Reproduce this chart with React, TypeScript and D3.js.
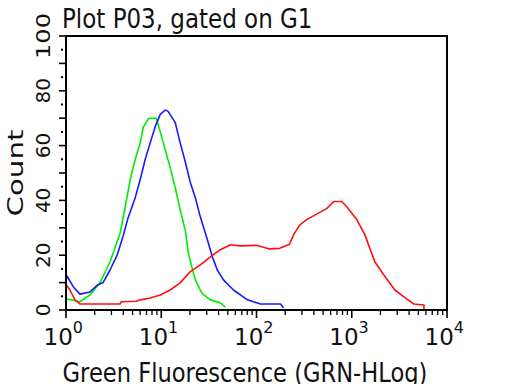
import { useMemo } from 'react'
import * as d3 from 'd3'

// histogram traces: fluorescence channel (log scale) vs count
const greenX = [1.0, 1.02, 1.4, 1.79, 2.28, 2.9, 3.7, 4.18, 4.72, 5.33, 6.01, 6.47, 7.4, 8.9, 9.76, 11.0, 12.4, 14.0, 15.8, 17.9, 19.2, 21.2, 22.8, 25.7, 27.0, 32.8, 41.8, 47.2]
const greenY = [3.7, 4, 3, 5.5, 10, 17.6, 28, 37.5, 47.6, 55, 61, 66.7, 70, 70, 65, 58.6, 52, 44.7, 36.6, 29, 21, 15, 11, 7.3, 6, 3.7, 2.6, 1]

const blueX = [1.0, 1.02, 1.19, 1.4, 1.79, 2.12, 2.45, 2.9, 3.44, 3.98, 4.49, 5.33, 6.01, 6.79, 7.66, 8.65, 9.76, 11.0, 11.8, 14.0, 15.8, 17.9, 20.2, 22.8, 25.7, 30.5, 34.4, 38.8, 45.0, 57.3, 80.4, 110, 179, 192]
const blueY = [10, 12.5, 8.5, 5.8, 6.6, 9, 10, 14.6, 20, 27, 33.7, 41, 47.6, 55, 61, 67, 71.4, 73, 72.5, 68.5, 61, 54, 46.5, 41, 34, 25.6, 19.4, 14.6, 11, 7.3, 3.7, 2.2, 2.2, 0.7]

const redX = [1.0, 1.0, 1.02, 1.1, 1.24, 1.4, 3.7, 3.8, 5.5, 6.01, 7.66, 9.76, 12.4, 15.8, 20.2, 25.7, 32.8, 41.8, 53.2, 67.9, 100, 137, 175, 222, 245, 284, 336, 428, 545, 647, 785, 886, 1129, 1371, 1746, 2172, 2836, 3793, 4497, 5728, 5728]
const redY = [0, 9, 9, 7.3, 3.7, 2.2, 2.2, 3, 3.2, 3.7, 4.4, 5.5, 7.3, 9.9, 14, 16.5, 19.4, 22, 23.8, 23.4, 23.6, 22.3, 22.5, 24, 27.5, 31, 33, 35, 37, 39.6, 39.6, 37.7, 33, 27.5, 17.6, 12.8, 7.3, 4, 2.2, 1.8, 0.4]

const yTicks = [0, 20, 40, 60, 80, 100]
const xDecades = [1, 10, 100, 1000, 10000]
const xExponents = ['0', '1', '2', '3', '4']

const title = 'Plot P03, gated on G1'
const xTitle = 'Green Fluorescence (GRN-HLog)'
const yTitle = 'Count'

const W = 512
const H = 384
const margin = { top: 36, right: 65, bottom: 74, left: 66 }
const font = 'DejaVu Sans, Verdana, sans-serif'

export default function App() {
  const x = d3.scaleLog().domain([1, 10000]).range([margin.left, W - margin.right])
  const y = d3.scaleLinear().domain([0, 100]).range([H - margin.bottom, margin.top])

  const series = useMemo(() => [
    { key: 'green', color: '#00ee00', xs: greenX, ys: greenY },
    { key: 'blue', color: '#1a1aff', xs: blueX, ys: blueY },
    { key: 'red', color: '#ff1010', xs: redX, ys: redY },
  ], [])

  const line = d3.line<[number, number]>()
    .x(d => x(d[0]))
    .y(d => y(d[1]))

  const minorX = useMemo(() => {
    const out: number[] = []
    for (let d = 1; d < 10000; d *= 10) {
      for (let k = 2; k <= 9; k++) out.push(d * k)
    }
    return out
  }, [])

  const y0 = y(0)
  const x0 = x(1)

  return (
    <svg width={W} height={H} style={{ position: 'absolute', left: 0, top: 0, background: '#fff' }} fontFamily={font}>
      {/* title, slightly stretched vertically like the source */}
      <text transform={`translate(62,28) scale(1,1.18)`} fontSize={23} fill="#111">{title}</text>

      {/* traces */}
      {series.map(s => (
        <path
          key={s.key}
          d={line(s.xs.map((v, i) => [v, s.ys[i]] as [number, number])) || ''}
          fill="none"
          stroke={s.color}
          strokeWidth={1.6}
          strokeLinejoin="round"
        />
      ))}

      {/* frame */}
      <rect x={x0} y={margin.top} width={x(10000) - x0} height={y0 - margin.top} fill="none" stroke="#000" strokeWidth={2} />

      {/* y ticks */}
      {d3.range(0, 101, 10).map(v => (
        <line key={'yt' + v} x1={x0 - 7} x2={x0} y1={y(v)} y2={y(v)} stroke="#000" strokeWidth={1.6} />
      ))}
      {d3.range(5, 100, 10).map(v => (
        <rect key={'yd' + v} x={x0 - 5} y={y(v) - 1} width={2} height={2} fill="#000" />
      ))}
      {yTicks.map(v => (
        <text
          key={'yl' + v}
          transform={`translate(50,${y(v)}) rotate(-90)`}
          textAnchor="middle"
          fontSize={20}
          fill="#111"
          textLength={v === 100 ? 46 : undefined}
          lengthAdjust="spacingAndGlyphs"
        >{v}</text>
      ))}

      {/* x ticks */}
      {xDecades.map(v => (
        <line key={'xt' + v} x1={x(v)} x2={x(v)} y1={y0} y2={y0 + 8} stroke="#000" strokeWidth={1.6} />
      ))}
      {minorX.map(v => (
        <line key={'xm' + v} x1={x(v)} x2={x(v)} y1={y0} y2={y0 + 5} stroke="#000" strokeWidth={1.3} />
      ))}
      {xDecades.map((v, i) => (
        <text key={'xl' + v} x={x(v) - 22.5} y={345} fontSize={23} fill="#111">
          10<tspan dy={-12} fontSize={16}>{xExponents[i]}</tspan>
        </text>
      ))}

      {/* axis titles */}
      <text transform={`translate(245,382) scale(1,1.15)`} textAnchor="middle" fontSize={22.6} fill="#111">{xTitle}</text>
      <text
        transform={`translate(23,${(margin.top + y0) / 2}) rotate(-90)`}
        textAnchor="middle"
        fontSize={22}
        fill="#111"
        textLength={87}
        lengthAdjust="spacingAndGlyphs"
      >{yTitle}</text>
    </svg>
  )
}
